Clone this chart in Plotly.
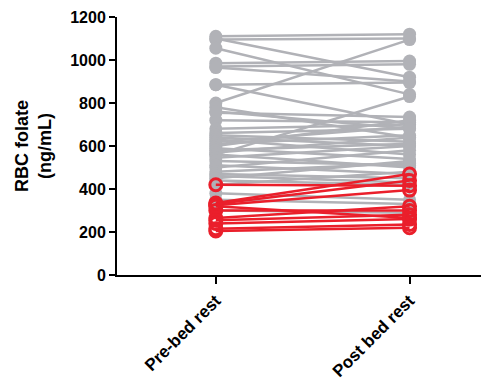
import plotly.graph_objects as go

categories = ["Pre-bed rest", "Post bed rest"]

gray_pre = [1110, 1095, 1100, 1055, 985, 970, 965, 885, 885, 800, 780, 755, 720, 680,
            560, 660, 650, 640, 630, 620, 610, 600, 590, 580, 570, 560, 545, 530, 510,
            500, 480, 470, 460, 450, 440, 420, 380, 350, 300, 760]
gray_post = [1120, 1100, 920, 840, 995, 980, 900, 895, 700, 1095, 640, 735, 710, 700,
             830, 680, 620, 600, 560, 690, 650, 720, 540, 610, 640, 500, 600, 510, 470,
             580, 520, 450, 430, 530, 420, 480, 350, 330, 290, 680]

red_pre = [420, 335, 330, 325, 300, 265, 255, 240, 215, 205, 320]
red_post = [415, 470, 440, 395, 300, 320, 280, 260, 235, 220, 265]

GRAY = "#b1b2b7"
RED = "#ea1f2b"

fig = go.Figure()
for a, b in zip(gray_pre, gray_post):
    fig.add_trace(go.Scatter(
        x=[0, 1], y=[a, b], mode="lines+markers",
        line=dict(color=GRAY, width=2.5),
        marker=dict(symbol="circle", size=13, color=GRAY),
        showlegend=False, hoverinfo="y"))
for a, b in zip(red_pre, red_post):
    fig.add_trace(go.Scatter(
        x=[0, 1], y=[a, b], mode="lines+markers",
        line=dict(color=RED, width=2.5),
        marker=dict(symbol="circle-open", size=12, color=RED, line=dict(width=3, color=RED)),
        showlegend=False, hoverinfo="y"))

font = "Liberation Sans, Arial, sans-serif"
# page body has an 8px margin, so the figure is sized/offset to compensate
fig.update_layout(
    width=481, height=380,
    margin=dict(l=109, r=0, t=9, b=113),
    plot_bgcolor="white", paper_bgcolor="white",
    font=dict(family=font, color="black"),
    xaxis=dict(
        range=[-0.51, 1.41], tickvals=[0, 1], ticktext=["<b>%s</b>" % c for c in categories],
        tickangle=-45, ticks="outside", ticklen=7, tickwidth=2, tickcolor="black",
        showline=True, linecolor="black", linewidth=2, showgrid=False, zeroline=False,
        automargin=False,
        tickfont=dict(size=17, family=font, color="black")),
    yaxis=dict(
        range=[0, 1200], tickvals=[0, 200, 400, 600, 800, 1000, 1200],
        ticktext=["<b>%d</b>" % v for v in [0, 200, 400, 600, 800, 1000, 1200]],
        ticks="outside", ticklen=6, tickwidth=2, tickcolor="black",
        showline=True, linecolor="black", linewidth=2, showgrid=False, zeroline=False,
        automargin=False,
        tickfont=dict(size=16, family=font, color="black"),
        title=dict(text="<b>RBC folate<br>(ng/mL)</b>", font=dict(size=18, family=font, color="black"), standoff=14)),
)

fig.write_html("out.html")
